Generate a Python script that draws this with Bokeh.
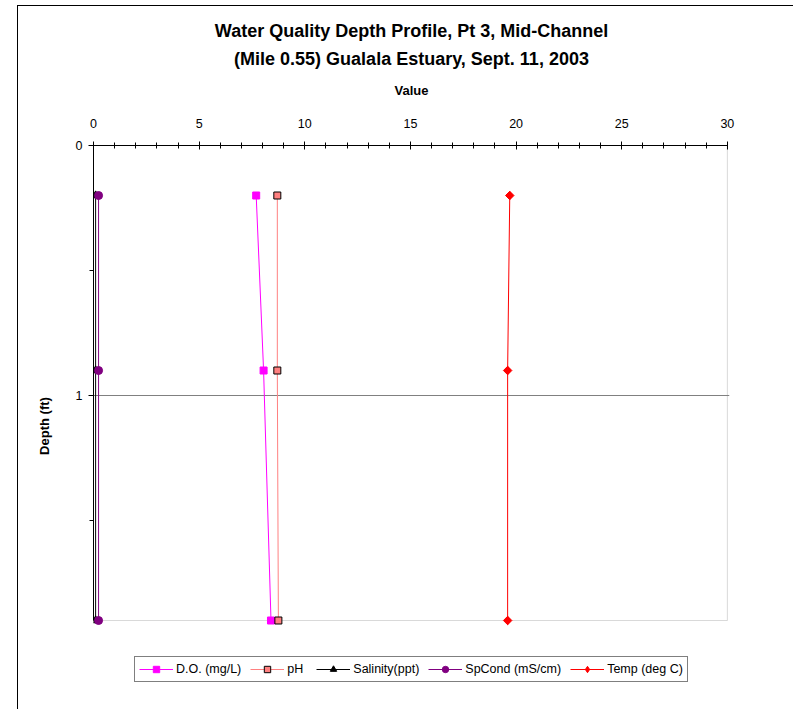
from bokeh.plotting import figure
from bokeh.models import (Range1d, FixedTicker, Title, Legend, LegendItem, BoxAnnotation)
from bokeh.embed import file_html
from bokeh.resources import INLINE

# ---- data ----
depth = [0.2, 0.9, 1.9]
do_vals = [7.7, 8.05, 8.4]
ph_vals = [8.7, 8.7, 8.75]
sal_vals = [0.1, 0.1, 0.1]
spc_vals = [0.24, 0.24, 0.24]
temp_vals = [19.7, 19.6, 19.6]
x_ticks = [0, 5, 10, 15, 20, 25, 30]
y_ticks = [0, 1]
x_min, x_max = 0, 30
depth_min, depth_max = 0, 1.9
title1 = "Water Quality Depth Profile, Pt 3, Mid-Channel"
title2 = "(Mile 0.55) Gualala Estuary, Sept. 11, 2003"

FONT = "Liberation Sans"

p = figure(width=776, height=704, output_backend="svg", toolbar_location=None,
           x_range=Range1d(0, 30.1), y_range=Range1d(2.244, 0),
           x_axis_location="above", title=None,
           min_border_left=75, min_border_right=65, min_border_top=139, min_border_bottom=4)
p.styles = {"margin-top": "5px", "margin-left": "17px",
            "border-left": "1px solid black", "border-top": "1px solid black"}
p.background_fill_color = "white"
p.border_fill_color = "white"
p.outline_line_color = None

# axes
xa = p.xaxis[0]
xa.bounds = (x_min, x_max)
xa.ticker = FixedTicker(ticks=x_ticks, minor_ticks=list(range(0, 31)))
xa.axis_label = "Value"
xa.axis_label_text_font = FONT
xa.axis_label_text_font_style = "bold"
xa.axis_label_text_font_size = "13px"
xa.axis_label_text_color = "black"
xa.axis_label_standoff = 18
xa.major_label_text_font = FONT
xa.major_label_text_font_size = "12.5px"
xa.major_label_text_color = "black"
xa.major_label_standoff = 14
xa.major_tick_in = 4
xa.major_tick_out = 4
xa.minor_tick_in = 3
xa.minor_tick_out = 3
xa.axis_line_color = "black"
xa.major_tick_line_color = "black"
xa.minor_tick_line_color = "black"

ya = p.yaxis[0]
ya.bounds = (depth_min, depth_max)
ya.ticker = FixedTicker(ticks=y_ticks, minor_ticks=[0.5, 1.5])
ya.axis_label = "Depth (ft)"
ya.axis_label_text_font = FONT
ya.axis_label_text_font_style = "bold"
ya.axis_label_text_font_size = "13px"
ya.axis_label_text_color = "black"
ya.axis_label_standoff = 21
ya.major_label_text_font = FONT
ya.major_label_text_font_size = "12.5px"
ya.major_label_text_color = "black"
ya.major_label_standoff = 6
ya.major_tick_in = 0
ya.major_tick_out = 5
ya.minor_tick_in = 0
ya.minor_tick_out = 4
ya.axis_line_color = "black"

p.xgrid.visible = False
p.ygrid.ticker = FixedTicker(ticks=[1])
p.ygrid.grid_line_color = "#808080"
p.ygrid.grid_line_width = 1
p.ygrid.bounds = (x_min, x_max)

# plot-area border (gray, like the chart's plot area)
p.add_layout(BoxAnnotation(left=x_min, right=x_max, top=depth_min, bottom=depth_max,
                           fill_alpha=0, line_color="#808080", line_width=1,
                           level="underlay"))

# titles
t2 = Title(text=title2, align="center", text_font=FONT, text_font_size="18px",
           text_font_style="bold", text_color="black", standoff=21)
t1 = Title(text=title1, align="center", text_font=FONT, text_font_size="18px",
           text_font_style="bold", text_color="black", standoff=-8)
p.add_layout(t2, "above")
p.add_layout(t1, "above")

# series
series = [
    ("D.O. (mg/L)", do_vals, "#FF00FF", "square", "#FF00FF", "#FF00FF", 7),
    ("pH", ph_vals, "#FF8080", "square", "#FF8080", "black", 7),
    ("Salinity(ppt)", sal_vals, "black", "triangle", "black", "black", 8),
    ("SpCond (mS/cm)", spc_vals, "#800080", "circle", "#800080", "#800080", 8),
    ("Temp (deg C)", temp_vals, "#FF0000", "diamond", "#FF0000", "#FF0000", 8),
]
items = []
for label, vals, color, marker, fill, outline, size in series:
    lr = p.line(vals, depth, line_color=color, line_width=1)
    mr = p.scatter(vals, depth, marker=marker, size=size, fill_color=fill,
                   line_color=outline, line_width=1)
    if marker == "diamond":
        # wider diamond on top of the legend's diamond glyph
        p.scatter(vals, depth, marker="square", size=6, angle=0.785398,
                  fill_color=fill, line_color=outline, line_width=1)
    items.append(LegendItem(label=label, renderers=[lr, mr]))

legend = Legend(items=items, orientation="horizontal", location=(41, 24),
                label_text_font=FONT, label_text_font_size="12.5px",
                label_text_color="black",
                glyph_width=34, glyph_height=16, label_height=16,
                label_standoff=3, spacing=9, padding=4, margin=0,
                border_line_color="black", border_line_width=1,
                background_fill_color="white", background_fill_alpha=1)
p.add_layout(legend, "center")

open("out.html", "w").write(file_html(p, INLINE))
